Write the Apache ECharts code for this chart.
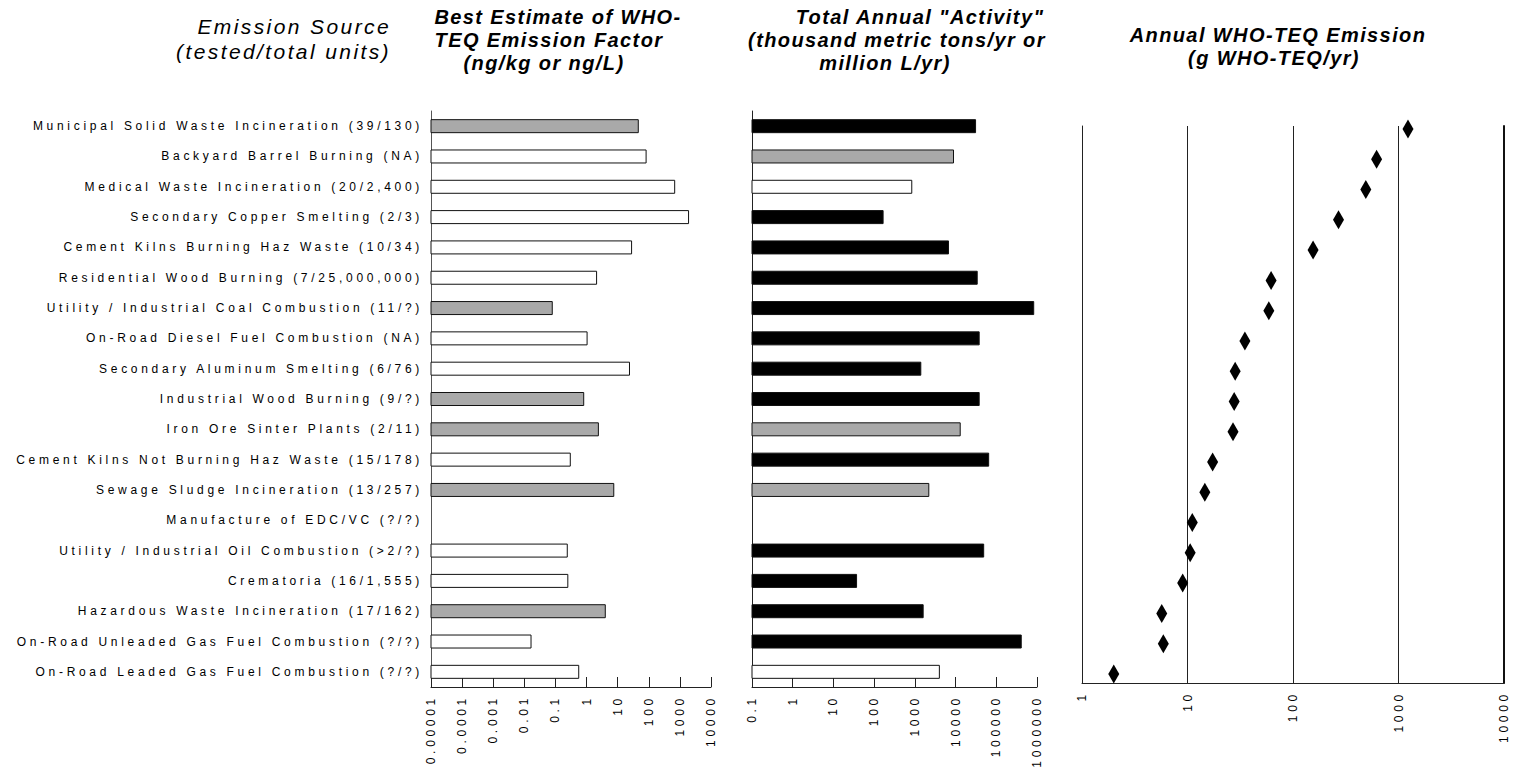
<!DOCTYPE html>
<html>
<head>
<meta charset="utf-8">
<title>WHO-TEQ Emission Sources</title>
<script src="https://cdn.jsdelivr.net/npm/echarts@6/dist/echarts.min.js"></script>
<style>
    html, body { margin: 0; padding: 0; background: #fff; }
    #chart { width: 1522px; height: 768px; }
    /* the original text is very widely spaced */
    #chart text { letter-spacing: 3.7px; }
    #chart text[style*="italic"] { letter-spacing: 1.4px; }
    #chart text[style*="21px"] { letter-spacing: 2.4px; }
</style>
</head>
<body>
<div id="chart"></div>
<script>
// rows, top to bottom
const categories = [
    'Municipal Solid Waste Incineration (39/130)',
    'Backyard Barrel Burning (NA)',
    'Medical Waste Incineration (20/2,400)',
    'Secondary Copper Smelting (2/3)',
    'Cement Kilns Burning Haz Waste (10/34)',
    'Residential Wood Burning (7/25,000,000)',
    'Utility / Industrial Coal Combustion (11/?)',
    'On-Road Diesel Fuel Combustion (NA)',
    'Secondary Aluminum Smelting (6/76)',
    'Industrial Wood Burning (9/?)',
    'Iron Ore Sinter Plants (2/11)',
    'Cement Kilns Not Burning Haz Waste (15/178)',
    'Sewage Sludge Incineration (13/257)',
    'Manufacture of EDC/VC (?/?)',
    'Utility / Industrial Oil Combustion (>2/?)',
    'Crematoria (16/1,555)',
    'Hazardous Waste Incineration (17/162)',
    'On-Road Unleaded Gas Fuel Combustion (?/?)',
    'On-Road Leaded Gas Fuel Combustion (?/?)'
]

// emission factor, ng/kg or ng/L
const factorValues = [46, 82, 680, 1900, 28, 2.1, 0.079, 1.04, 24, 0.81, 2.4, 0.30, 7.5, null, 0.24, 0.25, 4.0, 0.0164, 0.56]
// confidence: H = black, M = gray, L = white
const factorRating = ['M', 'L', 'L', 'L', 'L', 'L', 'M', 'L', 'L', 'M', 'M', 'L', 'M', null, 'L', 'L', 'M', 'L', 'L']

// activity, thousand metric tons/yr or million L/yr
const activityValues = [31000, 8900, 840, 166, 6700, 34000, 830000, 38000, 1400, 38000, 13000, 65000, 2200, null, 49000, 37, 1600, 410000, 4000]
const activityRating = ['H', 'M', 'L', 'H', 'H', 'H', 'H', 'H', 'H', 'H', 'M', 'H', 'M', null, 'H', 'H', 'H', 'H', 'L']

// annual emission, g WHO-TEQ/yr
const emissionValues = [1230, 620, 490, 270, 155, 62, 59, 35, 28.3, 27.7, 27, 17.3, 14.6, 11.1, 10.6, 9.0, 5.7, 5.9, 2.0]

const factorTicks = ['0.00001', '0.0001', '0.001', '0.01', '0.1', '1', '10', '100', '1000', '10000']
const activityTicks = ['0.1', '1', '10', '100', '1000', '10000', '100000', '1000000']
const emissionTicks = ['1', '10', '100', '1000', '10000']

const shade = { H: '#000000', M: '#a9a9a9', L: '#ffffff' }
const font = 'Liberation Sans'
const barHeight = 13

let chart = echarts.init(document.getElementById('chart'), null, { renderer: 'svg' })

// label of a decade tick
function tickLabel(ticks, minExp) {
    return function (v) {
        let k = Math.round(Math.log10(v)) - minExp
        return ticks[k] !== undefined ? ticks[k] : ''
    }
}

// bars on a log axis have to start at the axis min, so draw them as custom rects
function barSeries(values, rating, axisMin, idx) {
    return {
        type: 'custom',
        xAxisIndex: idx,
        yAxisIndex: idx,
        data: values.map((v, i) => [v === null ? '-' : v, i]),
        encode: { x: 0, y: 1 },
        renderItem: function (params, api) {
            let v = api.value(0)
            if (isNaN(v)) return null
            let start = api.coord([axisMin, api.value(1)])
            let end = api.coord([v, api.value(1)])
            return {
                type: 'rect',
                shape: { x: start[0], y: start[1] - barHeight / 2, width: end[0] - start[0], height: barHeight },
                style: { fill: shade[rating[params.dataIndex]], stroke: '#111', lineWidth: 1 }
            }
        }
    }
}

function logAxis(grid, min, max, ticks, minExp, split) {
    return {
        gridIndex: grid,
        type: 'log',
        logBase: 10,
        min: min,
        max: max,
        axisLine: { show: true, onZero: false, lineStyle: { color: '#222', width: 1 } },
        axisTick: { show: !split, inside: true, length: 10, lineStyle: { color: '#222' } },
        splitLine: { show: split, lineStyle: { color: '#222', width: 1 } },
        minorSplitLine: { show: false },
        axisLabel: {
            rotate: 90,
            margin: 8,
            fontSize: 12,
            fontFamily: font,
            color: '#000',
            formatter: tickLabel(ticks, minExp)
        }
    }
}

const titleStyle = { fontFamily: font, fontStyle: 'italic', fontWeight: 'bold', fontSize: 20, color: '#000' }
const sourceStyle = { fontFamily: font, fontStyle: 'italic', fontWeight: 'normal', fontSize: 21, color: '#000' }

function titleLine(text, x, y, align, style) {
    return {
        text: text,
        left: x,
        top: y,
        padding: 0,
        textAlign: align,
        textVerticalAlign: 'middle',
        textStyle: style || titleStyle
    }
}

chart.setOption({
    animation: false,
    backgroundColor: '#fff',
    title: [
        titleLine('Emission Source', 391, 26, 'right', sourceStyle),
        titleLine('(tested/total units)', 391, 51, 'right', sourceStyle),
        titleLine('Best Estimate of WHO-', 558, 17, 'center'),
        titleLine('TEQ Emission Factor', 549, 40, 'center'),
        titleLine('(ng/kg or ng/L)', 544, 63, 'center'),
        titleLine('Total Annual "Activity"', 920, 17, 'center'),
        titleLine('(thousand metric tons/yr or', 897, 40, 'center'),
        titleLine('million L/yr)', 885, 63, 'center'),
        titleLine('Annual WHO-TEQ Emission', 1278, 35, 'center'),
        titleLine('(g WHO-TEQ/yr)', 1274, 58, 'center')
    ],
    grid: [
        { left: 431, top: 111, width: 280, height: 576 },
        { left: 752, top: 111, width: 285, height: 576 },
        { left: 1082, top: 126, width: 422, height: 557 }
    ],
    xAxis: [
        logAxis(0, 1e-5, 1e4, factorTicks, -5, false),
        logAxis(1, 0.1, 1e6, activityTicks, -1, false),
        logAxis(2, 1, 1e4, emissionTicks, 0, true)
    ],
    yAxis: [
        {
            gridIndex: 0,
            type: 'category',
            inverse: true,
            data: categories,
            axisLine: { show: true, lineStyle: { color: '#555' } },
            axisTick: { show: false },
            axisLabel: { interval: 0, margin: 8, fontSize: 12, fontFamily: font, color: '#000' }
        },
        {
            gridIndex: 1,
            type: 'category',
            inverse: true,
            data: categories,
            axisLine: { show: true, lineStyle: { color: '#222' } },
            axisTick: { show: false },
            axisLabel: { show: false }
        },
        {
            gridIndex: 2,
            type: 'value',
            inverse: true,
            min: 0.9,
            max: 19.3,
            axisLine: { show: true, lineStyle: { color: '#222' } },
            axisTick: { show: false },
            axisLabel: { show: false },
            splitLine: { show: false }
        },
        // thicker frame line at the right of the emission panel
        {
            gridIndex: 2,
            type: 'value',
            position: 'right',
            inverse: true,
            min: 0.9,
            max: 19.3,
            axisLine: { show: true, lineStyle: { color: '#111', width: 2 } },
            axisTick: { show: false },
            axisLabel: { show: false },
            splitLine: { show: false }
        }
    ],
    series: [
        barSeries(factorValues, factorRating, 1e-5, 0),
        barSeries(activityValues, activityRating, 0.1, 1),
        {
            type: 'scatter',
            xAxisIndex: 2,
            yAxisIndex: 2,
            symbol: 'diamond',
            symbolSize: [11, 19],
            itemStyle: { color: '#000', opacity: 1 },
            data: emissionValues.map((v, i) => [v, i + 1])
        }
    ]
})
</script>
</body>
</html>
